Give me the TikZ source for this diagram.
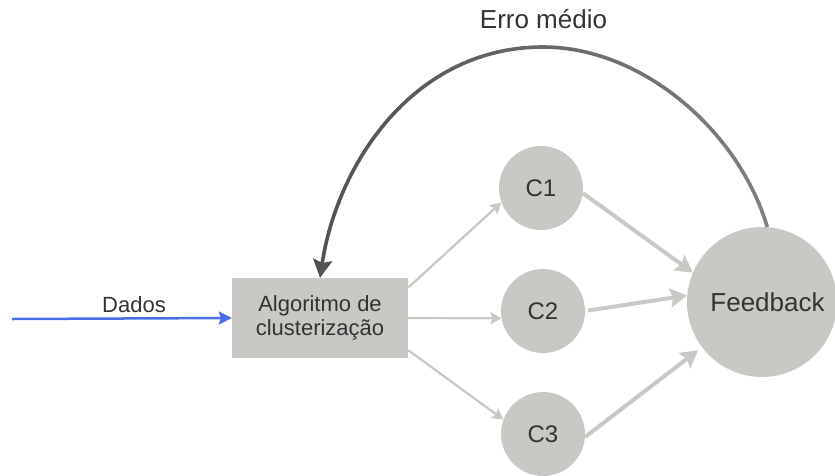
\documentclass[tikz,border=0pt]{standalone}
\usepackage{fontspec}
\setmainfont{Liberation Sans}
\usetikzlibrary{arrows.meta}
\definecolor{boxgray}{RGB}{200,200,196}
\definecolor{txtgray}{RGB}{51,51,51}
\definecolor{inblue}{RGB}{74,110,232}
\definecolor{arcdark}{RGB}{80,80,80}
\definecolor{arclight}{RGB}{130,130,130}
\begin{document}
\begin{tikzpicture}[x=1pt,y=-1pt,
  every node/.style={text=txtgray},
  algobox/.style={rectangle, fill=boxgray, minimum width=176pt, minimum height=80pt,
    inner sep=0pt, align=center, font=\fontsize{22}{24}\selectfont},
  cluster/.style={circle, fill=boxgray, minimum size=84pt, inner sep=0pt,
    font=\fontsize{24}{26}\selectfont},
  fbcircle/.style={circle, fill=boxgray, minimum size=150pt, inner sep=0pt},
  smalltxt/.style={anchor=base, inner sep=0pt, font=\fontsize{22}{24}\selectfont},
  bigtxt/.style={anchor=base, inner sep=0pt, font=\fontsize{26}{28}\selectfont},
  inarrow/.style={draw=inblue, line width=2.5pt,
    -{Stealth[length=13pt, width=13pt, inset=2pt]}},
  splitarrow/.style={draw=boxgray, line width=2.2pt,
    -{Stealth[length=11pt, width=12pt, inset=2pt]}},
  mergearrow/.style={draw=boxgray, line width=4pt,
    -{Stealth[length=17pt, width=19pt, inset=3pt]}},
  backarc/.style={line width=3.6pt,
    -{Stealth[length=18pt, width=19pt, inset=3pt]}}]
\useasboundingbox (0,0) rectangle (835,475);

% nodes
\node[algobox] (algo) at (320,318) {Algoritmo de\\clusterização};
\node[cluster] (c1) at (541,188) {C1};
\node[cluster] (c2) at (543,311) {C2};
\node[cluster] (c3) at (543,434) {C3};
\node[fbcircle] (fb) at (762,302) {};
\node[bigtxt] (fbtxt) at (767.5,311) {Feedback};
\node[smalltxt] (dados) at (134,312) {Dados};
\node[bigtxt] (erro) at (543.5,28) {Erro médio};
\coordinate (src) at (12,319);
\coordinate (arctop) at (543,47);

% input data
\draw[inarrow] (src) -- (algo.west);

% clustering algorithm to clusters
\draw[splitarrow] (algo.19) -- (c1.200);
\draw[splitarrow] (algo.east) -- (c2.190);
\draw[splitarrow] (algo.-20) -- (c3.160);

% clusters to feedback
\draw[mergearrow] (c1.-7) -- (fb.157);
\draw[mergearrow, shorten <=3pt] (c2.east) -- (fb.175);
\draw[mergearrow, shorten >=5pt] (c3.-4) -- (fb.217);

% feedback loop, shaded from light (right) to dark (left)
\foreach \i in {0,...,24}{
  \pgfmathsetmacro\xa{300+\i*20}
  \pgfmathtruncatemacro\pc{100-\i*100/24}
  \begin{scope}
    \clip (\xa,0) rectangle (\xa+20.5,300);
    \draw[backarc, draw=arcdark!\pc!arclight]
      (fb.86) .. controls +(-28,-95) and +(100,0) .. (arctop)
      .. controls +(-130,0) and +(17,-113) .. (algo.north);
  \end{scope}
}
\end{tikzpicture}
\end{document}
